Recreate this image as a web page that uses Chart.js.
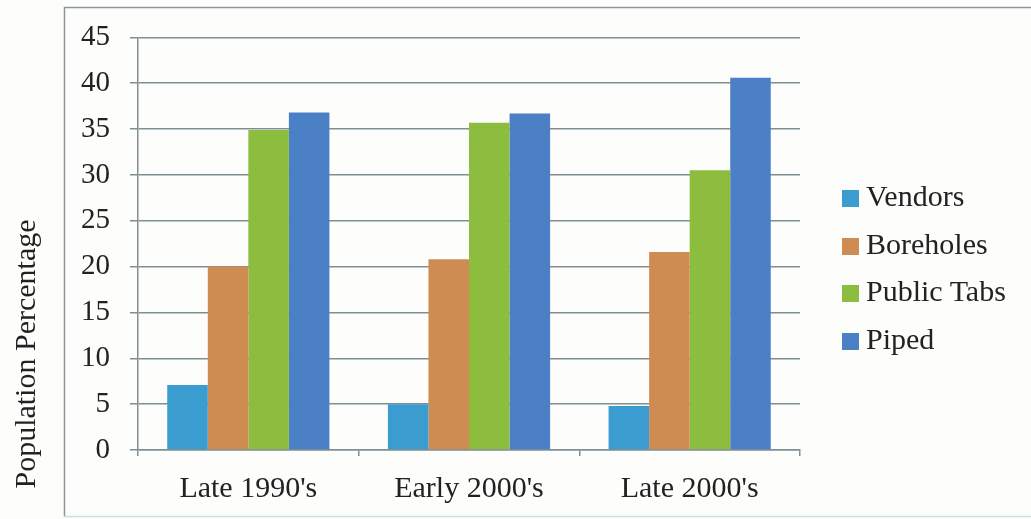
<!DOCTYPE html>
<html>
<head>
<meta charset="utf-8">
<script src="https://cdn.jsdelivr.net/npm/chart.js@4/dist/chart.umd.min.js"></script>
<style>
  html, body { margin: 0; padding: 0; background: #fdfdfb; }
  #wrap { position: relative; width: 1031px; height: 519px; }
  #legend { position: absolute; left: 842px; top: 172px; font-family: "Liberation Serif", serif; font-size: 30px; color: #222; }
  .item { height: 47.6px; line-height: 47.6px; white-space: nowrap; }
  .swatch { display: inline-block; width: 17px; height: 17px; margin-right: 7px; vertical-align: -1px; }
</style>
</head>
<body>
<div id="wrap">
  <canvas id="chart" width="1031" height="519"></canvas>
  <div id="legend"></div>
</div>
<script>
// periods on the x axis
const periods = ["Late 1990's", "Early 2000's", "Late 2000's"];

// share of population per water source (%)
const vendors = [7.1, 5.0, 4.8];
const boreholes = [20.0, 20.8, 21.6];
const publicTabs = [34.9, 35.7, 30.5];
const piped = [36.8, 36.7, 40.6];

const seriesNames = ['Vendors', 'Boreholes', 'Public Tabs', 'Piped'];
const seriesColors = ['#3b9ccf', '#cf8c52', '#8dbd3f', '#4c80c6'];
const yTicks = [0, 5, 10, 15, 20, 25, 30, 35, 40, 45];

const gridColor = '#7f8f93';
const serif = '"Liberation Serif", "Times New Roman", serif';

// outer frame of the figure
const framePlugin = {
  id: 'frame',
  beforeDraw(chart) {
    const ctx = chart.ctx;
    ctx.save();
    ctx.fillStyle = '#fdfdfb';
    ctx.fillRect(0, 0, chart.width, chart.height);
    ctx.strokeStyle = '#8d979a';
    ctx.lineWidth = 1.5;
    ctx.beginPath();
    ctx.moveTo(chart.width + 2, 7.5);
    ctx.lineTo(64.5, 7.5);
    ctx.lineTo(64.5, 516.5);
    ctx.stroke();
    ctx.strokeStyle = '#c9dfe6';
    ctx.beginPath();
    ctx.moveTo(64.5, 516.5);
    ctx.lineTo(chart.width + 2, 516.5);
    ctx.stroke();
    ctx.restore();
  }
};

// rotated axis title sitting outside the frame
const yTitlePlugin = {
  id: 'yTitle',
  afterDraw(chart) {
    const ctx = chart.ctx;
    ctx.save();
    ctx.translate(27, 354);
    ctx.rotate(-Math.PI / 2);
    ctx.font = '30px ' + serif;
    ctx.fillStyle = '#222';
    ctx.textAlign = 'center';
    ctx.textBaseline = 'middle';
    ctx.fillText('Population Percentage', 0, 0);
    ctx.restore();
  }
};

const seriesData = [vendors, boreholes, publicTabs, piped];

new Chart(document.getElementById('chart'), {
  type: 'bar',
  data: {
    labels: periods,
    datasets: seriesNames.map((name, i) => ({
      label: name,
      data: seriesData[i],
      backgroundColor: seriesColors[i],
      borderWidth: 0,
      barPercentage: 1,
      categoryPercentage: 0.735
    }))
  },
  options: {
    responsive: false,
    animation: false,
    layout: { padding: { top: 36, right: 231, left: 0, bottom: 0 } },
    plugins: { legend: { display: false }, tooltip: { enabled: false } },
    scales: {
      x: {
        afterFit: s => { s.height = 69; },
        grid: { drawOnChartArea: false, color: gridColor, lineWidth: 1.5, tickLength: 6 },
        border: { color: gridColor, width: 1.5 },
        ticks: { font: { family: serif, size: 30 }, color: '#222', padding: 15 }
      },
      y: {
        min: 0,
        max: 45,
        afterFit: s => { s.width = 138; },
        afterBuildTicks: s => { s.ticks = yTicks.map(v => ({ value: v })); },
        grid: { color: gridColor, lineWidth: 1.5, tickLength: 8 },
        border: { color: gridColor, width: 1.5 },
        ticks: { font: { family: serif, size: 29 }, color: '#222', padding: 20 }
      }
    }
  },
  plugins: [framePlugin, yTitlePlugin]
});

// legend built from the series arrays
document.getElementById('legend').innerHTML = seriesNames.map((name, i) =>
  `<div class="item"><span class="swatch" style="background:${seriesColors[i]}"></span>${name}</div>`
).join('');
</script>
</body>
</html>
